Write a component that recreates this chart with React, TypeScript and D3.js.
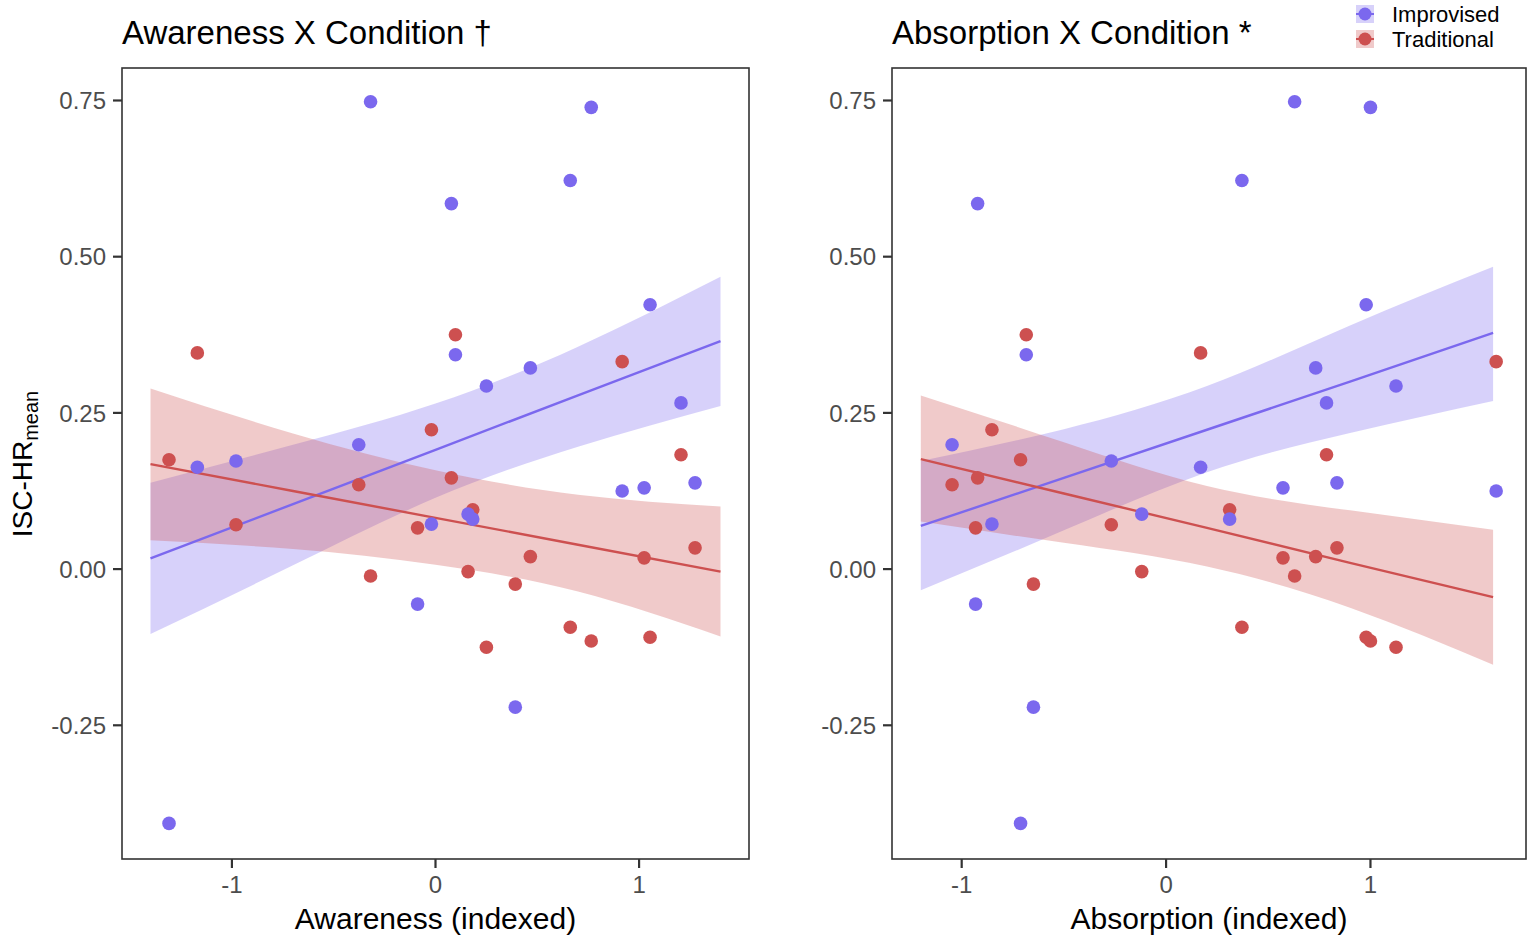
import React from 'react';
import * as d3 from 'd3';

// one entry per participant, same order in every array
const awareness = [-1.309, -1.17, -0.98, -0.377, -0.319, -0.02, -0.088, 0.078, 0.098, 0.16, 0.183, 0.25, 0.392, 0.466, 0.662, 0.765, 0.917, 1.025, 1.054, 1.206, 1.275];
const absorption = [-0.712, 0.169, -0.268, -1.047, 0.629, -0.852, -0.932, -0.922, -0.684, -0.119, 0.311, 1.125, -0.649, 0.732, 0.371, 1.0, 1.615, 0.572, 0.979, 0.785, 0.836];
const iscImprovised = [-0.407, 0.163, 0.173, 0.199, 0.748, 0.072, -0.056, 0.585, 0.343, 0.088, 0.08, 0.293, -0.221, 0.322, 0.622, 0.739, 0.125, 0.13, 0.423, 0.266, 0.138];
const iscTraditional = [0.175, 0.346, 0.071, 0.135, -0.011, 0.223, 0.066, 0.146, 0.375, -0.004, 0.095, -0.125, -0.024, 0.02, -0.093, -0.115, 0.332, 0.018, -0.109, 0.183, 0.034];

// model predictions (fit and CI) read at a few points along x
const awarenessGrid = [-1.4, -0.7, 0, 0.7, 1.4];
const awarenessImpFit = [0.017, 0.104, 0.191, 0.278, 0.365];
const awarenessImpLo = [-0.104, 0.006, 0.114, 0.196, 0.261];
const awarenessImpHi = [0.138, 0.199, 0.265, 0.356, 0.468];
const awarenessTradFit = [0.168, 0.125, 0.082, 0.039, -0.004];
const awarenessTradLo = [0.046, 0.032, 0.007, -0.036, -0.108];
const awarenessTradHi = [0.289, 0.217, 0.158, 0.119, 0.1];

const absorptionGrid = [-1.2, -0.5, 0.2, 0.9, 1.6];
const absorptionImpFit = [0.069, 0.146, 0.223, 0.3, 0.378];
const absorptionImpLo = [-0.034, 0.062, 0.155, 0.218, 0.269];
const absorptionImpHi = [0.173, 0.224, 0.293, 0.39, 0.484];
const absorptionTradFit = [0.176, 0.121, 0.066, 0.01, -0.045];
const absorptionTradLo = [0.076, 0.042, 0.004, -0.062, -0.153];
const absorptionTradHi = [0.278, 0.203, 0.133, 0.094, 0.063];

const yTicks = [-0.25, 0, 0.25, 0.5, 0.75];
const xTicks = [-1, 0, 1];
const conditions = ['Improvised', 'Traditional'];

const IMP = '#7B68EE';
const TRAD = '#CD5050';
const FONT = '"Liberation Sans", Arial, sans-serif';
const TOP = 68;
const BOTTOM = 859;

type PanelProps = {
	left: number;
	right: number;
	domain: [number, number];
	xs: number[];
	grid: number[];
	impFit: number[]; impLo: number[]; impHi: number[];
	tradFit: number[]; tradLo: number[]; tradHi: number[];
	title: string;
	xLabel: string;
};

function Panel(p: PanelProps): JSX.Element {
	const x = d3.scaleLinear(p.domain, [p.left, p.right]);
	const y = d3.scaleLinear([-0.464, 0.802], [BOTTOM, TOP]);
	const band = (lo: number[], hi: number[]) =>
		d3.area<number>().x((d) => x(d)).y0((_, i) => y(lo[i])).y1((_, i) => y(hi[i])).curve(d3.curveNatural)(p.grid) || '';
	const fit = (v: number[]) => d3.line<number>().x((d) => x(d)).y((_, i) => y(v[i]))(p.grid) || '';
	return (
		<g>
			<text x={p.left} y={44} fontSize={33} fill="#000">{p.title}</text>
			<path d={band(p.impLo, p.impHi)} fill={IMP} fillOpacity={0.3} />
			<path d={band(p.tradLo, p.tradHi)} fill={TRAD} fillOpacity={0.3} />
			<path d={fit(p.impFit)} stroke={IMP} strokeWidth={2.4} fill="none" />
			<path d={fit(p.tradFit)} stroke={TRAD} strokeWidth={2.4} fill="none" />
			{p.xs.map((d, i) => <circle key={'t' + i} cx={x(d)} cy={y(iscTraditional[i])} r={6.8} fill={TRAD} />)}
			{p.xs.map((d, i) => <circle key={'i' + i} cx={x(d)} cy={y(iscImprovised[i])} r={6.8} fill={IMP} />)}
			<rect x={p.left} y={TOP} width={p.right - p.left} height={BOTTOM - TOP} fill="none" stroke="#333" strokeWidth={1.6} />
			{yTicks.map((t) => (
				<g key={t}>
					<line x1={p.left - 9} x2={p.left} y1={y(t)} y2={y(t)} stroke="#333" strokeWidth={2.2} />
					<text x={p.left - 16} y={y(t)} dy="0.36em" textAnchor="end" fontSize={24} fill="#4D4D4D">{t.toFixed(2)}</text>
				</g>
			))}
			{xTicks.map((t) => (
				<g key={t}>
					<line x1={x(t)} x2={x(t)} y1={BOTTOM} y2={BOTTOM + 9} stroke="#333" strokeWidth={2.2} />
					<text x={x(t)} y={893} textAnchor="middle" fontSize={24} fill="#4D4D4D">{String(t)}</text>
				</g>
			))}
			<text x={(p.left + p.right) / 2} y={929} textAnchor="middle" fontSize={30} fill="#000">{p.xLabel}</text>
		</g>
	);
}

export default function App(): JSX.Element {
	const legendColors = [IMP, TRAD];
	return (
		<svg width={1535} height={943} style={{ position: 'absolute', left: 0, top: 0, background: '#fff', fontFamily: FONT }}>
			<rect width={1535} height={943} fill="#fff" />
			<Panel left={122} right={749} domain={[-1.54, 1.54]} xs={awareness} grid={awarenessGrid}
				impFit={awarenessImpFit} impLo={awarenessImpLo} impHi={awarenessImpHi}
				tradFit={awarenessTradFit} tradLo={awarenessTradLo} tradHi={awarenessTradHi}
				title="Awareness X Condition †" xLabel="Awareness (indexed)" />
			<Panel left={892} right={1526} domain={[-1.341, 1.761]} xs={absorption} grid={absorptionGrid}
				impFit={absorptionImpFit} impLo={absorptionImpLo} impHi={absorptionImpHi}
				tradFit={absorptionTradFit} tradLo={absorptionTradLo} tradHi={absorptionTradHi}
				title="Absorption X Condition *" xLabel="Absorption (indexed)" />
			<text transform="translate(32,464) rotate(-90)" textAnchor="middle" fontSize={28} fill="#000">
				ISC-HR<tspan fontSize={20} dy={6}>mean</tspan>
			</text>
			{conditions.map((c, i) => (
				<g key={c} transform={`translate(1356,${5 + i * 25})`}>
					<rect width={18} height={18} fill={legendColors[i]} fillOpacity={0.3} />
					<line x1={0} x2={18} y1={9} y2={9} stroke={legendColors[i]} strokeWidth={2} />
					<circle cx={9} cy={9} r={6.5} fill={legendColors[i]} />
					<text x={36} y={17} fontSize={22} fill="#000">{c}</text>
				</g>
			))}
		</svg>
	);
}
